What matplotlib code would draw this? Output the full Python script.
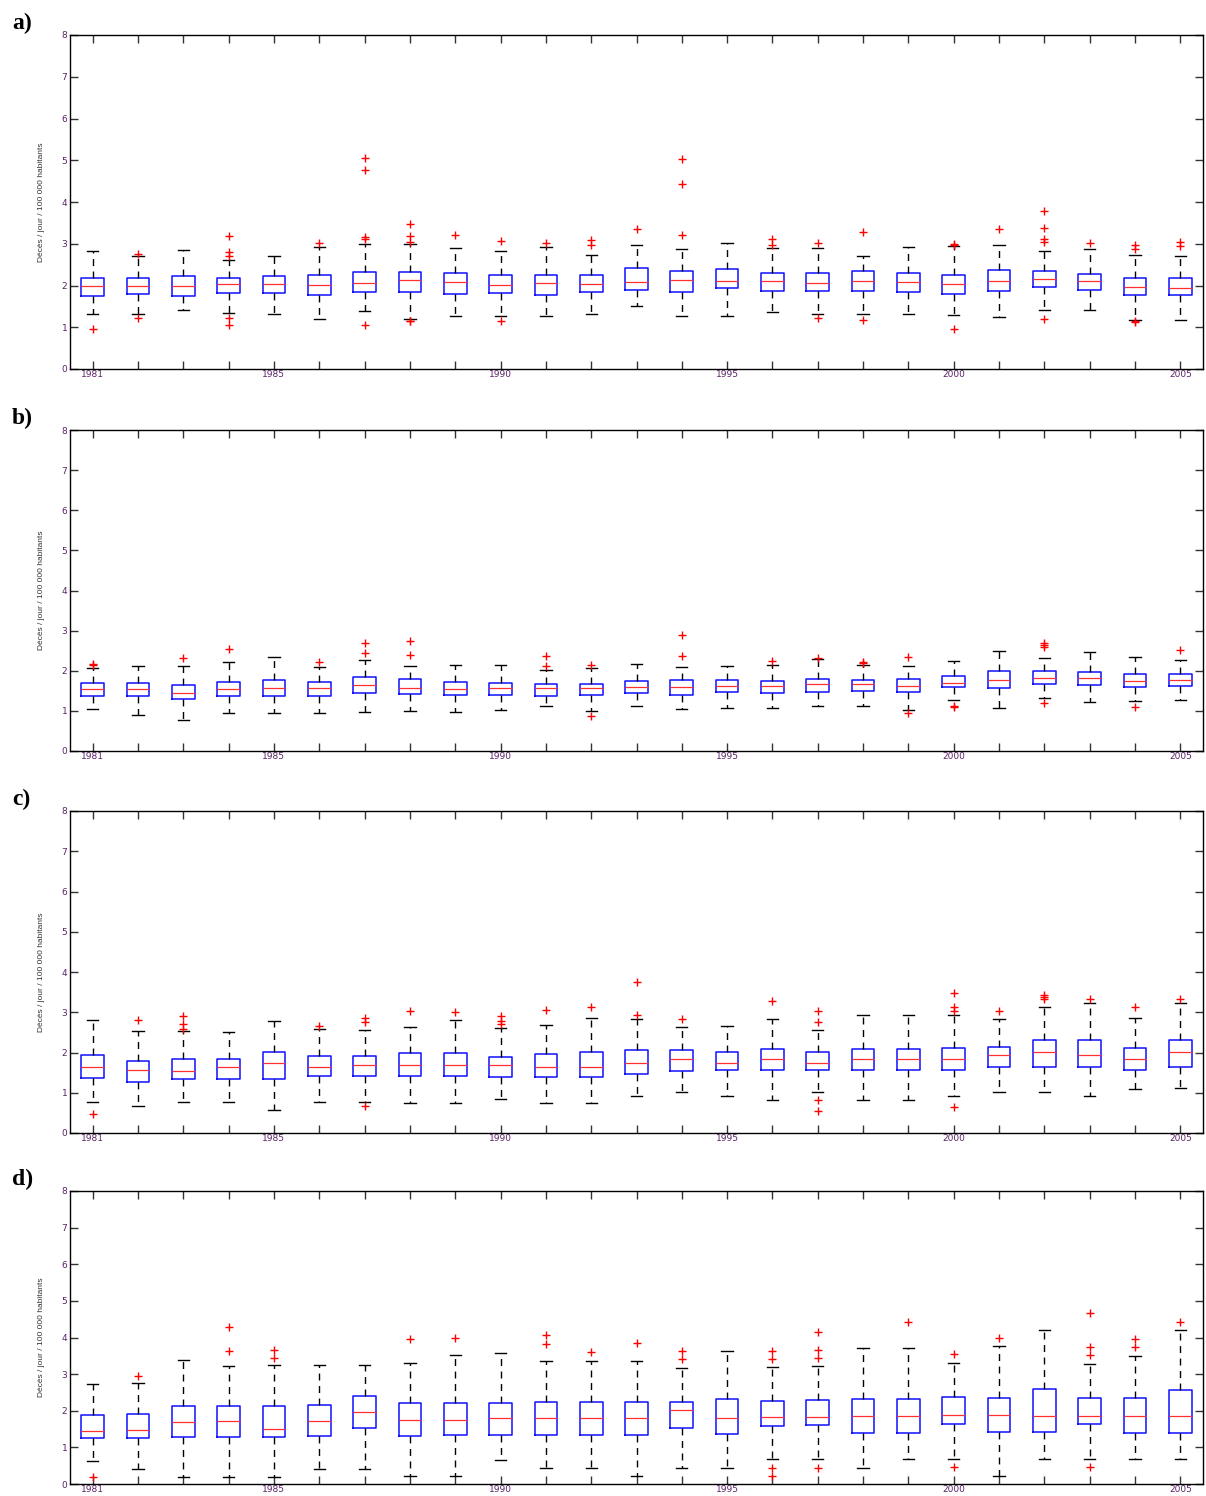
import matplotlib.pyplot as plt

years = list(range(1981, 2006))
shown_years = [1981, 1985, 1990, 1995, 2000, 2005]
ylabel = "Décès / jour / 100 000 habitants"

# panel a
a_whislo = [1.31, 1.31, 1.41, 1.35, 1.31, 1.19, 1.38, 1.19, 1.28, 1.26, 1.26, 1.32, 1.51,
            1.26, 1.26, 1.36, 1.31, 1.32, 1.31, 1.29, 1.24, 1.41, 1.41, 1.18, 1.18]
a_q1 = [1.75, 1.79, 1.75, 1.82, 1.83, 1.77, 1.85, 1.85, 1.80, 1.82, 1.78, 1.84, 1.89,
        1.84, 1.93, 1.88, 1.87, 1.86, 1.85, 1.79, 1.88, 1.96, 1.90, 1.77, 1.77]
a_med = [1.98, 1.98, 1.98, 2.03, 2.03, 2.01, 2.06, 2.13, 2.08, 2.01, 2.06, 2.03, 2.08,
         2.13, 2.10, 2.10, 2.06, 2.10, 2.08, 2.03, 2.10, 2.16, 2.10, 1.96, 1.94]
a_q3 = [2.18, 2.18, 2.22, 2.17, 2.22, 2.25, 2.33, 2.33, 2.30, 2.26, 2.24, 2.26, 2.42,
        2.35, 2.39, 2.30, 2.30, 2.34, 2.31, 2.25, 2.38, 2.34, 2.28, 2.18, 2.18]
a_whishi = [2.82, 2.71, 2.86, 2.61, 2.70, 2.92, 3.00, 2.99, 2.89, 2.82, 2.92, 2.73, 2.97,
            2.87, 3.01, 2.91, 2.91, 2.70, 2.93, 2.94, 2.98, 2.83, 2.87, 2.73, 2.70]
a_fliers = [[0.97], [2.75, 1.22], [], [3.18, 2.80, 2.70, 1.22, 1.06], [], [3.01],
            [5.06, 4.77, 3.16, 3.11, 1.05], [3.47, 3.18, 3.04, 1.16, 1.14], [3.21],
            [3.06, 1.14], [3.01], [3.09, 2.96], [3.35], [5.04, 4.43, 3.21], [],
            [3.12, 2.96], [3.02, 1.22], [3.28, 1.17], [], [3.00, 2.97, 0.96], [3.35],
            [3.79, 3.38, 3.12, 3.03, 1.19], [3.01], [2.97, 2.87, 1.15, 1.12], [3.05, 2.94]]

# panel b
b_whislo = [1.04, 0.89, 0.78, 0.95, 0.94, 0.94, 0.98, 1.00, 0.98, 1.03, 1.12, 1.00, 1.12,
            1.05, 1.08, 1.07, 1.12, 1.12, 1.02, 1.28, 1.07, 1.31, 1.21, 1.25, 1.28]
b_q1 = [1.38, 1.37, 1.30, 1.37, 1.37, 1.37, 1.45, 1.42, 1.40, 1.40, 1.38, 1.40, 1.45,
        1.40, 1.47, 1.45, 1.48, 1.50, 1.48, 1.60, 1.57, 1.67, 1.64, 1.60, 1.62]
b_med = [1.55, 1.55, 1.45, 1.55, 1.58, 1.57, 1.64, 1.57, 1.55, 1.57, 1.57, 1.57, 1.60,
         1.60, 1.62, 1.62, 1.68, 1.67, 1.62, 1.69, 1.77, 1.82, 1.82, 1.75, 1.77]
b_q3 = [1.69, 1.69, 1.64, 1.72, 1.77, 1.72, 1.84, 1.80, 1.72, 1.70, 1.68, 1.68, 1.75,
        1.77, 1.77, 1.75, 1.80, 1.77, 1.79, 1.87, 1.99, 1.99, 1.98, 1.91, 1.91]
b_whishi = [2.08, 2.11, 2.12, 2.21, 2.34, 2.09, 2.26, 2.12, 2.14, 2.15, 2.03, 2.07, 2.18,
            2.10, 2.12, 2.15, 2.30, 2.15, 2.11, 2.25, 2.49, 2.32, 2.46, 2.34, 2.26]
b_fliers = [[2.17, 2.14], [], [2.31], [2.54], [], [2.23], [2.69, 2.45], [2.74, 2.40], [],
            [], [2.38, 2.12], [2.15, 0.88], [], [2.90, 2.38], [], [2.25], [2.33],
            [2.23, 2.19], [2.34, 0.94], [1.12, 1.10], [], [2.69, 2.64, 2.60, 1.19], [],
            [1.09], [2.51]]

# panel c
c_whislo = [0.77, 0.67, 0.77, 0.77, 0.57, 0.77, 0.77, 0.74, 0.74, 0.84, 0.74, 0.74, 0.92,
            1.01, 0.92, 0.81, 1.01, 0.81, 0.81, 0.91, 1.01, 1.01, 0.91, 1.10, 1.11]
c_q1 = [1.37, 1.26, 1.34, 1.35, 1.34, 1.41, 1.42, 1.42, 1.41, 1.39, 1.38, 1.38, 1.47,
        1.53, 1.56, 1.56, 1.56, 1.56, 1.56, 1.56, 1.65, 1.65, 1.65, 1.56, 1.65]
c_med = [1.65, 1.56, 1.54, 1.63, 1.73, 1.63, 1.70, 1.70, 1.68, 1.68, 1.65, 1.65, 1.73,
         1.83, 1.73, 1.83, 1.73, 1.83, 1.83, 1.83, 1.93, 2.02, 1.93, 1.84, 2.02]
c_q3 = [1.94, 1.78, 1.84, 1.84, 2.02, 1.91, 1.92, 1.98, 1.98, 1.88, 1.96, 2.02, 2.05,
        2.05, 2.02, 2.09, 2.02, 2.09, 2.09, 2.11, 2.14, 2.30, 2.30, 2.11, 2.30]
c_whishi = [2.81, 2.53, 2.53, 2.51, 2.79, 2.58, 2.55, 2.64, 2.81, 2.60, 2.69, 2.86, 2.84,
            2.64, 2.67, 2.84, 2.57, 2.93, 2.93, 2.94, 2.84, 3.13, 3.23, 2.86, 3.23]
c_fliers = [[0.48], [2.81], [2.90, 2.72, 2.59], [], [], [2.67], [2.86, 2.76, 0.67],
            [3.02], [3.00], [2.91, 2.79, 2.70], [3.05], [3.14], [3.76, 2.94], [2.84], [],
            [3.29], [3.02, 2.75, 0.81, 0.54], [], [], [3.49, 3.14, 3.04, 0.64], [3.04],
            [3.42, 3.37, 3.32], [3.32], [3.14], [3.33]]

# panel d
d_whislo = [0.62, 0.42, 0.20, 0.20, 0.20, 0.42, 0.42, 0.23, 0.23, 0.66, 0.44, 0.44, 0.23,
            0.44, 0.44, 0.69, 0.69, 0.44, 0.69, 0.69, 0.23, 0.69, 0.69, 0.69, 0.69]
d_q1 = [1.26, 1.26, 1.27, 1.28, 1.28, 1.30, 1.52, 1.32, 1.33, 1.35, 1.35, 1.35, 1.35,
        1.53, 1.37, 1.59, 1.61, 1.38, 1.38, 1.65, 1.41, 1.41, 1.64, 1.39, 1.39]
d_med = [1.45, 1.47, 1.69, 1.72, 1.50, 1.72, 1.96, 1.76, 1.76, 1.79, 1.81, 1.81, 1.81,
         2.03, 1.81, 1.84, 1.84, 1.85, 1.85, 1.88, 1.88, 1.87, 1.87, 1.85, 1.85]
d_q3 = [1.88, 1.90, 2.12, 2.14, 2.14, 2.16, 2.39, 2.20, 2.21, 2.22, 2.24, 2.24, 2.24,
        2.25, 2.32, 2.27, 2.28, 2.31, 2.31, 2.37, 2.35, 2.59, 2.34, 2.34, 2.56]
d_whishi = [2.72, 2.75, 3.39, 3.21, 3.24, 3.26, 3.26, 3.30, 3.53, 3.57, 3.37, 3.37, 3.37,
            3.17, 3.63, 3.19, 3.21, 3.70, 3.72, 3.30, 3.77, 4.21, 3.28, 3.50, 4.20]
d_fliers = [[0.20], [2.95], [], [4.29, 3.64], [3.66, 3.45], [], [], [3.96], [4.00], [],
            [4.06, 3.83], [3.61], [3.84], [3.63, 3.40], [], [3.64, 3.42, 0.45, 0.23],
            [4.14, 3.66, 3.44, 0.45], [], [4.43], [3.54, 0.47], [4.00], [],
            [4.68, 3.75, 3.51, 0.47], [3.97, 3.73], [4.43]]

panels = [
    ("a)", a_whislo, a_q1, a_med, a_q3, a_whishi, a_fliers),
    ("b)", b_whislo, b_q1, b_med, b_q3, b_whishi, b_fliers),
    ("c)", c_whislo, c_q1, c_med, c_q3, c_whishi, c_fliers),
    ("d)", d_whislo, d_q1, d_med, d_q3, d_whishi, d_fliers),
]

# axes top / bottom in pixels
W, H = 1206, 1496
rects = [(35, 369), (430, 751), (811, 1133), (1191, 1484)]
tick_color = '#5a2266'

fig = plt.figure(figsize=(W / 100, H / 100), dpi=100)

for (label, lo, q1, med, q3, hi, fl), (top, bot) in zip(panels, rects):
    ax = fig.add_axes([70 / W, 1 - bot / H, 1133 / W, (bot - top) / H])
    stats = []
    for i in range(len(years)):
        stats.append(dict(whislo=lo[i], q1=q1[i], med=med[i], q3=q3[i],
                          whishi=hi[i], fliers=fl[i]))
    ax.bxp(stats, positions=range(1, len(years) + 1), widths=0.5,
           boxprops=dict(color='#1010ff', linewidth=1.1),
           medianprops=dict(color='#ff3030', linewidth=0.9),
           whiskerprops=dict(color='black', linestyle=(0, (5, 4)), linewidth=1),
           capprops=dict(color='black', linewidth=1),
           flierprops=dict(marker='+', markeredgecolor='red', markersize=6,
                           markeredgewidth=1, linestyle='none'),
           manage_ticks=False)
    ax.set_xlim(0.5, len(years) + 0.5)
    ax.set_ylim(0, 8)
    ax.set_xticks(range(1, len(years) + 1))
    ax.set_xticklabels([str(y) if y in shown_years else '' for y in years])
    ax.set_yticks(range(0, 9))
    ax.tick_params(direction='in', length=6, width=1, top=True, right=True,
                   labelsize=6.5, labelcolor=tick_color, color='#333333', pad=2)
    ax.tick_params(axis='x', pad=0.5)
    for s in ax.spines.values():
        s.set_linewidth(1)
    ax.set_ylabel(ylabel, fontsize=6, family='Liberation Sans', color='#333333',
                  labelpad=12)
    fig.text(12 / W, 1 - (top - 12) / H, label, fontsize=17, fontweight='bold',
             family='Liberation Serif', va='center', ha='left')

plt.savefig('out.png', dpi=100)
